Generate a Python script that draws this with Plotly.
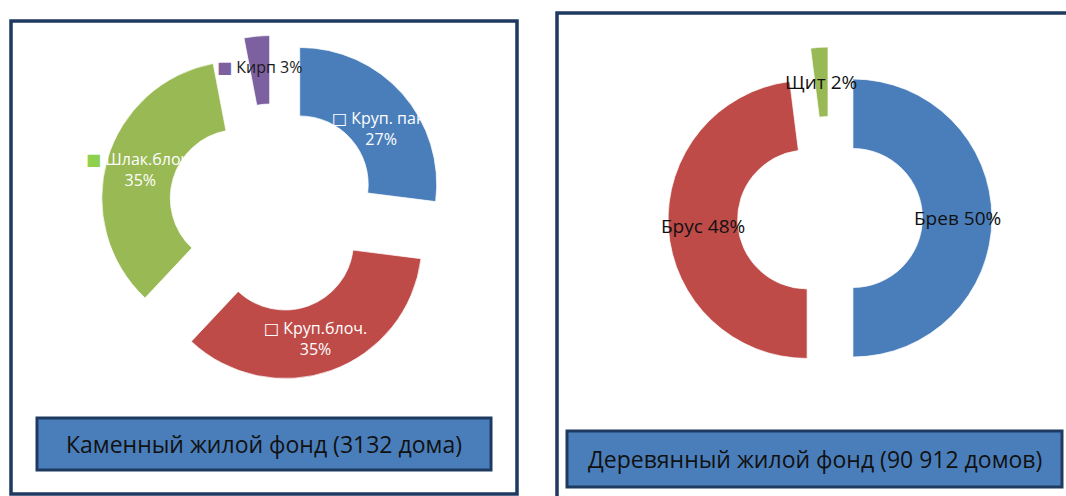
import math
import plotly.graph_objects as go

W, H = 1066, 496

# ---- data ----
stone_labels = ["Круп. пан.", "Круп.блоч.", "Шлак.блоч.", "Кирп"]
stone_values = [27, 35, 35, 3]
stone_colors = ["#4A7EBB", "#BE4B48", "#98B954", "#7D60A0"]
stone_pull = [0.26, 0.26, 0.26, 0.26]

wood_labels = ["Брев", "Брус", "Щит"]
wood_values = [50, 48, 2]
wood_colors = ["#4A7EBB", "#BE4B48", "#98B954"]
wood_pull = [0.165, 0.165, 0.23]

titles = ["Каменный жилой фонд (3132 дома)", "Деревянный жилой фонд (90 912 домов)"]

# small label nudges (pixels) – layout only
stone_nudge = [(4, 12), (-4, 0), (0, 0), (0, -3)]

FONT = "Open Sans, Noto Sans, DejaVu Sans, sans-serif"
NAVY = "#1F3A60"

# ---- geometry (pixels) ----
L = dict(cx=273, cy=208, r=137, hole=0.5)
R = dict(cx=830, cy=218, r=139, hole=0.5)


def domain_for(g, pulls):
    half = g["r"] * (1 + max(pulls))
    return dict(x=[(g["cx"] - half) / W, (g["cx"] + half) / W],
                y=[1 - (g["cy"] + half) / H, 1 - (g["cy"] - half) / H])


def label_pos(values, pulls, g, i, nudge=(0, 0)):
    total = sum(values)
    start = sum(values[:i])
    mid = (start + values[i] / 2) / total * 2 * math.pi
    ux, uy = math.sin(mid), -math.cos(mid)
    d = pulls[i] * g["r"] + g["r"] * (1 + g["hole"]) / 2
    px, py = g["cx"] + ux * d + nudge[0], g["cy"] + uy * d + nudge[1]
    return px / W, 1 - py / H


fig = go.Figure()
fig.add_trace(go.Pie(
    labels=stone_labels, values=stone_values, sort=False, direction="clockwise",
    rotation=0, hole=L["hole"], pull=stone_pull, textinfo="none",
    marker=dict(colors=stone_colors, line=dict(color="rgba(255,255,255,0.7)", width=1)),
    domain=domain_for(L, stone_pull), showlegend=False, hoverinfo="label+percent"))
fig.add_trace(go.Pie(
    labels=wood_labels, values=wood_values, sort=False, direction="clockwise",
    rotation=0, hole=R["hole"], pull=wood_pull, textinfo="none",
    marker=dict(colors=wood_colors, line=dict(color="rgba(255,255,255,0.7)", width=1)),
    domain=domain_for(R, wood_pull), showlegend=False, hoverinfo="label+percent"))

annotations = []
# stone labels
for i, (lab, val) in enumerate(zip(stone_labels, stone_values)):
    x, y = label_pos(stone_values, stone_pull, L, i, stone_nudge[i])
    if lab == "Кирп":
        txt = f'<span style="color:{stone_colors[i]}">■</span> {lab} {val}%'
        color = "#1a1a1a"
    elif lab == "Шлак.блоч.":
        txt = f'<span style="color:#8FD14F">■</span> {lab}<br>{val}%'
        color = "white"
    else:
        txt = f'□ {lab}<br>{val}%'
        color = "white"
    annotations.append(dict(x=x, y=y, xref="paper", yref="paper", text=txt,
                            xanchor="center", yanchor="middle",
                            showarrow=False, align="center",
                            font=dict(family=FONT, size=16, color=color)))
# wood labels
for i, (lab, val) in enumerate(zip(wood_labels, wood_values)):
    x, y = label_pos(wood_values, wood_pull, R, i)
    annotations.append(dict(x=x, y=y, xref="paper", yref="paper", text=f"{lab} {val}%",
                            xanchor="center", yanchor="middle", showarrow=False,
                            font=dict(family=FONT, size=19, color="#111111")))

# title boxes
boxes = [(37, 418, 491, 470), (567, 431, 1062, 487)]
shapes = []
for (x0, y0, x1, y1), t in zip(boxes, titles):
    shapes.append(dict(type="rect", xref="paper", yref="paper",
                       x0=x0 / W, x1=x1 / W, y0=1 - y1 / H, y1=1 - y0 / H,
                       fillcolor="#4A7EBB", line=dict(color=NAVY, width=3)))
    annotations.append(dict(x=(x0 + x1) / 2 / W, y=1 - (y0 + y1) / 2 / H, xref="paper", yref="paper",
                            text=t, showarrow=False, xanchor="center", yanchor="middle",
                            font=dict(family=FONT, size=23, color="#111111")))

# frames
frames = [(11, 21, 517, 494), (557, 13, 1075, 505)]
for (x0, y0, x1, y1) in frames:
    shapes.append(dict(type="rect", xref="paper", yref="paper",
                       x0=x0 / W, x1=x1 / W, y0=1 - y1 / H, y1=1 - y0 / H,
                       fillcolor="rgba(0,0,0,0)", line=dict(color=NAVY, width=3.5)))

fig.update_layout(width=W, height=H, margin=dict(l=0, r=0, t=0, b=0),
                  paper_bgcolor="white", plot_bgcolor="white",
                  shapes=shapes, annotations=annotations,
                  font=dict(family=FONT))

fig.write_html("out.html", config={"displayModeBar": False},
               post_script="document.body.style.margin='0px';document.body.style.overflow='hidden';")
